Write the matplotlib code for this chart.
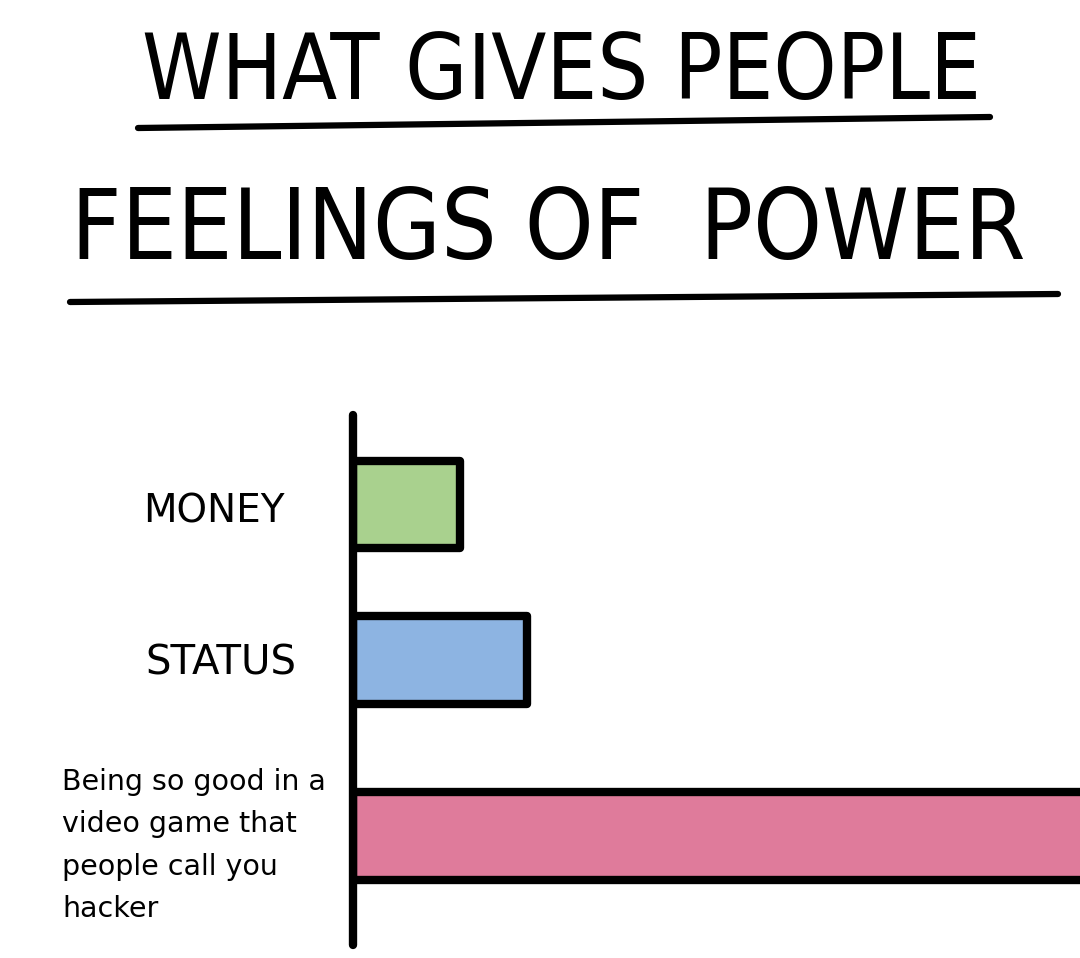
import matplotlib
matplotlib.use('Agg')
import matplotlib.pyplot as plt
from matplotlib.lines import Line2D
import matplotlib.transforms as mtransforms

# data
categories = ['MONEY', 'STATUS',
              'Being so good in a\nvideo game that\npeople call you\nhacker']
values = [14.7, 23.9, 110]
colors = ['#a9d18e', '#8db4e2', '#df7b9b']

title_lines = ['WHAT GIVES PEOPLE', 'FEELINGS OF  POWER']

fig = plt.figure(figsize=(10.8, 9.58), dpi=100)
fig.patch.set_facecolor('white')

# axes: left spine at x=353px, from y=415px to 945px
ax = fig.add_axes([353 / 1080, 1 - 945 / 958, 1 - 353 / 1080, (945 - 415) / 958])
ypos = [0, 0.94, 2]
bars = ax.barh(ypos, values, height=0.53, color=colors, edgecolor='black',
               linewidth=6, align='center')
for b in bars:
    b.set_joinstyle('round')
    b.set_capstyle('round')

ax.set_xlim(0, 100)
ax.set_ylim(2.66, -0.54)
ax.set_xticks([])
ax.set_yticks([])
for s in ['top', 'right', 'bottom']:
    ax.spines[s].set_visible(False)
ax.spines['left'].set_linewidth(6)
ax.spines['left'].set_capstyle('round')
ax.spines['left'].set_zorder(5)

# category labels to the left of the axis
trans = mtransforms.blended_transform_factory(fig.transFigure, ax.transData)
ax.text(214 / 1080, ypos[0] + 0.04, categories[0], transform=trans, ha='center',
        va='center', fontsize=28, family='DejaVu Sans', clip_on=False)
ax.text(221 / 1080, ypos[1] + 0.02, categories[1], transform=trans, ha='center',
        va='center', fontsize=29, family='DejaVu Sans', clip_on=False)
ax.text(62 / 1080, ypos[2] + 0.06, categories[2], transform=trans, ha='left',
        va='center', fontsize=20.5, family='DejaVu Sans', linespacing=1.66,
        clip_on=False)

# hand-lettered title with underlines, font size fitted to the lettering width
t1 = fig.text(562 / 1080, 1 - 74 / 958, title_lines[0], ha='center', va='center',
              fontsize=60, family='DejaVu Sans', fontstretch='condensed')
t2 = fig.text(548 / 1080, 1 - 231 / 958, title_lines[1], ha='center', va='center',
              fontsize=60, family='DejaVu Sans', fontstretch='condensed')
fig.canvas.draw()
for t, w in [(t1, 840), (t2, 955)]:
    cur = t.get_window_extent().width
    t.set_fontsize(60 * w / cur)

fig.add_artist(Line2D([138 / 1080, 990 / 1080], [1 - 128 / 958, 1 - 117 / 958],
                      color='black', linewidth=4.5, solid_capstyle='round'))
fig.add_artist(Line2D([70 / 1080, 1058 / 1080], [1 - 302 / 958, 1 - 294 / 958],
                      color='black', linewidth=4.5, solid_capstyle='round'))

plt.savefig('out.png', dpi=100, facecolor='white')
